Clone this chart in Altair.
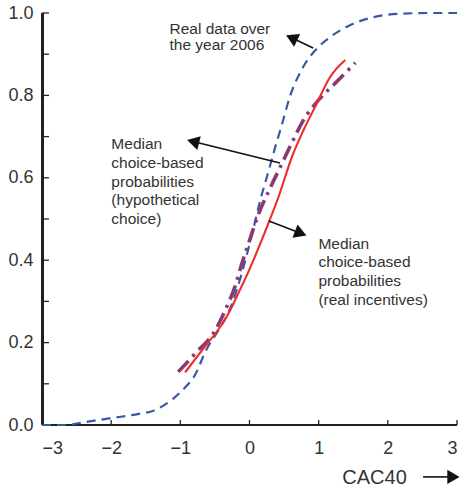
import math
import altair as alt
import pandas as pd

# Cumulative probability curves against the CAC40 variation
real_x = [-3.0, -2.65, -2.42, -2.03, -1.6, -1.4, -1.11, -0.91, -0.81, -0.62, -0.43,
          -0.3, -0.18, -0.06, 0.04, 0.156, 0.253, 0.373, 0.47, 0.58, 0.78, 1.0, 1.17,
          1.46, 1.8, 2.15, 2.6, 3.0]
real_y = [0.0, 0.0, 0.006, 0.016, 0.027, 0.034, 0.063, 0.095, 0.115, 0.184, 0.235,
          0.275, 0.33, 0.40, 0.465, 0.546, 0.603, 0.675, 0.73, 0.795, 0.87, 0.918,
          0.942, 0.971, 0.99, 0.998, 1.0, 1.0]

incent_x = [-0.93, -0.66, -0.42, -0.30, -0.158, -0.013, 0.253, 0.42, 0.614, 0.782,
            0.951, 1.17, 1.385]
incent_y = [0.128, 0.187, 0.239, 0.272, 0.321, 0.373, 0.481, 0.554, 0.651, 0.716,
            0.773, 0.846, 0.886]

hypo_x = [-1.03, -0.76, -0.52, -0.35, -0.21, -0.11, 0.01, 0.13, 0.29, 0.45, 0.61,
          0.78, 1.0, 1.26, 1.53]
hypo_y = [0.129, 0.178, 0.223, 0.279, 0.336, 0.392, 0.453, 0.512, 0.572, 0.628,
          0.684, 0.74, 0.789, 0.833, 0.879]

x_ticks = [-3, -2, -1, 0, 1, 2, 3]
y_labels = [0.0, 0.2, 0.4, 0.6, 0.8, 1.0]
y_ticks = [0.1, 0.2, 0.3, 0.4, 0.5, 0.6, 0.7, 0.8, 0.9, 1.0]

W, H = 415, 412
FONT = "Liberation Sans"
INK = "#222222"
TXT = "#333333"

xs = alt.Scale(domain=[-3, 3], nice=False, zero=False)
ys = alt.Scale(domain=[0, 1], nice=False, zero=False)

x_axis = alt.Axis(values=x_ticks, format="d", ticks=False, grid=False, labelFontSize=18,
                  labelColor=TXT, labelFont=FONT, labelPadding=14, domain=False,
                  title=None)
y_axis = alt.Axis(values=y_labels, format=".1f", ticks=False, grid=False, labelFontSize=18,
                  labelColor=TXT, labelFont=FONT, labelPadding=9, domain=False,
                  title=None)

real_df = pd.DataFrame({"x": real_x, "y": real_y})
incent_df = pd.DataFrame({"x": incent_x, "y": incent_y})
hypo_df = pd.DataFrame({"x": hypo_x, "y": hypo_y})

# axis lines along the left and bottom edges of the plot
y_domain = alt.Chart(real_df).mark_rule(color=INK, strokeWidth=1.5).encode(
    x=alt.value(0.5), y=alt.value(0), y2=alt.value(H)
)
x_domain = alt.Chart(real_df).mark_rule(color=INK, strokeWidth=1.5).encode(
    x=alt.value(0), x2=alt.value(W), y=alt.value(H)
)

# inward-pointing axis ticks
ytick_rules = alt.Chart(pd.DataFrame({"v": y_ticks})).mark_rule(
    color=INK, strokeWidth=1.3
).encode(y=alt.Y("v:Q", scale=ys), x=alt.value(0), x2=alt.value(7))

xtick_rules = alt.Chart(pd.DataFrame({"v": x_ticks})).mark_rule(
    color=INK, strokeWidth=1.3
).encode(x=alt.X("v:Q", scale=xs), y=alt.value(H), y2=alt.value(H - 5))

real_line = alt.Chart(real_df).mark_line(
    color="#3b57a8", strokeWidth=2.2, strokeDash=[9, 6], interpolate="monotone", clip=False
).encode(x=alt.X("x:Q", scale=xs, axis=x_axis), y=alt.Y("y:Q", scale=ys, axis=y_axis))

hypo_line = alt.Chart(hypo_df).mark_line(
    color="#8a3a70", strokeWidth=3.6, strokeDash=[15, 6, 3, 6], interpolate="monotone"
).encode(x=alt.X("x:Q", scale=xs), y=alt.Y("y:Q", scale=ys))

incent_line = alt.Chart(incent_df).mark_line(
    color="#ee2b2b", strokeWidth=2.1, interpolate="monotone"
).encode(x=alt.X("x:Q", scale=xs), y=alt.Y("y:Q", scale=ys))

# annotation arrows: (x_from, y_from, x_tip, y_tip) in data units
arrows = [
    (0.92, 0.915, 0.517, 0.947),
    (0.44, 0.636, -0.914, 0.692),
    (0.28, 0.495, 0.835, 0.459),
    (2.51, -0.126, 3.05, -0.126),
]
px_x = W / 6.0
px_y = H / 1.0
HEAD = 7.0
rows = []
for (x0, y0, x1, y1) in arrows:
    dx = (x1 - x0) * px_x
    dy = -(y1 - y0) * px_y
    L = math.hypot(dx, dy)
    ux, uy = dx / L, dy / L
    cx = x1 - ux * HEAD / px_x
    cy = y1 + uy * HEAD / px_y
    ang = math.degrees(math.atan2(dy, dx)) % 360
    rows.append({"x0": x0, "y0": y0, "cx": cx, "cy": cy, "ang": ang})
arrow_df = pd.DataFrame(rows)

arrow_shafts = alt.Chart(arrow_df).mark_rule(color="#111111", strokeWidth=1.6).encode(
    x=alt.X("x0:Q", scale=xs), y=alt.Y("y0:Q", scale=ys), x2="cx:Q", y2="cy:Q"
)
arrow_heads = alt.Chart(arrow_df).mark_point(
    shape="triangle-right", filled=True, color="#111111", size=200, opacity=1
).encode(
    x=alt.X("cx:Q", scale=xs), y=alt.Y("cy:Q", scale=ys),
    angle=alt.Angle("ang:Q", scale=None)
)

def label(lines, x, y, lh, size=15.5):
    return alt.Chart(pd.DataFrame({"x": [x], "y": [y]})).mark_text(
        text=lines, align="left", baseline="alphabetic", font=FONT, fontSize=size,
        color=TXT, lineHeight=lh
    ).encode(x=alt.X("x:Q", scale=xs), y=alt.Y("y:Q", scale=ys))

txt_real = label(["Real data over", "the year 2006"], -1.157, 0.950, 16.7)
txt_hypo = label(["Median", "choice-based", "probabilities", "(hypothetical", "choice)"],
                 -1.997, 0.669, 18.7)
txt_inc = label(["Median", "choice-based", "probabilities", "(real incentives)"],
                0.996, 0.428, 18.7)
txt_cac = label(["CAC40"], 1.342, -0.143, 20, size=20)

chart = alt.layer(
    y_domain, x_domain, ytick_rules, xtick_rules, real_line, hypo_line, incent_line,
    arrow_shafts, arrow_heads, txt_real, txt_hypo, txt_inc, txt_cac
).properties(
    width=W, height=H,
    autosize=alt.AutoSizeParams(type="none"),
    padding={"left": 42, "top": 13, "right": 3, "bottom": 64},
    background="white",
).configure_view(stroke=None)

chart.save("out.html", embed_options={"renderer": "svg", "actions": False})
